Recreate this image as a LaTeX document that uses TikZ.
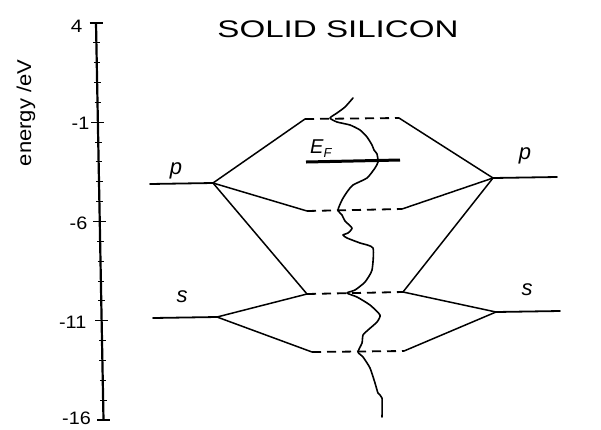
\documentclass[tikz,border=0pt]{standalone}
\usepackage{fontspec}
\setmainfont{Liberation Sans}
\usetikzlibrary{calc}
\tikzset{
  levelline/.style={line width=1.8pt, line cap=round},
  bandline/.style={line width=1.8pt, dash pattern=on 9pt off 6pt},
  conn/.style={line width=1.5pt, line cap=round},
  orblabel/.style={font=\fontsize{22}{26}\selectfont\itshape, inner sep=0pt, anchor=base},
  axlabel/.style={font=\fontsize{18}{21}\selectfont, inner sep=0pt, anchor=east},
}
\begin{document}
\begin{tikzpicture}[x=1pt,y=-1pt]
\useasboundingbox (0,0) rectangle (601,429);
% title
\node[inner sep=0pt, font=\fontsize{24}{28}\selectfont] (title) at (338,29) {\scalebox{1.38}[1]{SOLID SILICON}};
% axis
\coordinate (atop) at (96,23);
\coordinate (abot) at (103.5,420);
\draw[line width=2.2pt] (atop) -- (abot);
\foreach \i in {0,...,20}{
  \coordinate (t\i) at ($(atop)!\i/20!(abot)$);
}
\foreach \i in {1,2,3,4,6,7,8,9,11,12,13,14,16,17,18,19}{
  \draw[line width=1pt] ($(t\i)+(-3,0)$) -- ($(t\i)+(3.5,0)$);
}
\foreach \i in {0,5,10,15,20}{
  \draw[line width=1.4pt] ($(t\i)+(-6.5,0)$) -- ($(t\i)+(6.5,0)$);
}
\node[axlabel] (l4) at (82.5,26) {\scalebox{1.15}[1]{4}};
\node[axlabel] (l1) at (89.5,123) {\scalebox{1.1}[1]{-1}};
\node[axlabel] (l6) at (87.5,223) {\scalebox{1.1}[1]{-6}};
\node[axlabel] (l11) at (86.5,322) {\scalebox{1.1}[1]{-11}};
\node[axlabel] (l16) at (91,418.5) {\scalebox{1.1}[1]{-16}};
\node[inner sep=0pt, rotate=90, font=\fontsize{20}{24}\selectfont] (ylab) at (26,113) {\scalebox{1.1}[1]{energy /eV}};
% level coordinates
\coordinate (pLend) at (150,184);
\coordinate (pL) at (213,183);
\coordinate (sLend) at (153,318);
\coordinate (sL) at (217,317);
\coordinate (pRend) at (557,177);
\coordinate (pR) at (493,178);
\coordinate (sRend) at (560,311);
\coordinate (sR) at (496,312);
\coordinate (ptL) at (305,119);
\coordinate (ptR) at (399,118);
\coordinate (pbL) at (307,211);
\coordinate (pbR) at (402,209);
\coordinate (stL) at (307,294);
\coordinate (stR) at (403,292);
\coordinate (sbL) at (312,352);
\coordinate (sbR) at (404,351);
% atomic levels
\draw[levelline] (pLend) -- (pL);
\draw[levelline] (sLend) -- (sL);
\draw[levelline] (pR) -- (pRend);
\draw[levelline] (sR) -- (sRend);
\node[orblabel] (pl) at (176,174) {p};
\node[orblabel] (sl) at (182,302) {s};
\node[orblabel] (pr) at (525,159) {p};
\node[orblabel] (sr) at (527,295) {s};
% connectors
\draw[conn] (pL) -- (ptL);
\draw[conn] (pL) -- (pbL);
\draw[conn] (pL) -- (stL);
\draw[conn] (sL) -- (stL);
\draw[conn] (sL) -- (sbL);
\draw[conn] (pR) -- (ptR);
\draw[conn] (pR) -- (pbR);
\draw[conn] (pR) -- (stR);
\draw[conn] (sR) -- (stR);
\draw[conn] (sR) -- (sbR);
% bands
\draw[bandline] (ptL) -- (ptR);
\draw[bandline] (pbL) -- (pbR);
\draw[bandline] (stL) -- (stR);
\draw[bandline] (sbL) -- (sbR);
% Fermi level
\coordinate (efL) at (306,162);
\coordinate (efR) at (400,160);
\draw[line width=3pt] (efL) -- (efR);
\node[inner sep=0pt, anchor=base west, font=\fontsize{20}{23}\selectfont\itshape] (ef) at (310,153) {E\raisebox{-4.5pt}{\fontsize{13}{13}\selectfont F}};
% density of states
\draw[line width=1.6pt, line join=round, line cap=round] plot[smooth, tension=0.35] coordinates {
(353,98) (345,107) (337,113) (330,118) (337,122) (350,125) (360,130) (367,137) (372,145) (374,150) (377,154) (378,162) (375,168) (367,178) (353,185) (347,192) (342,200) (338,210) (342,215) (345,221) (352,228) (348,233) (343,235) (347,238) (360,243) (373,248) (372,270) (365,282) (355,290) (347,293) (357,297) (370,305) (380,315) (377,322) (368,330) (363,335) (362,343) (358,352) (363,357) (370,368) (375,383) (378,393) (382,398) (382,417)};
\end{tikzpicture}
\end{document}
